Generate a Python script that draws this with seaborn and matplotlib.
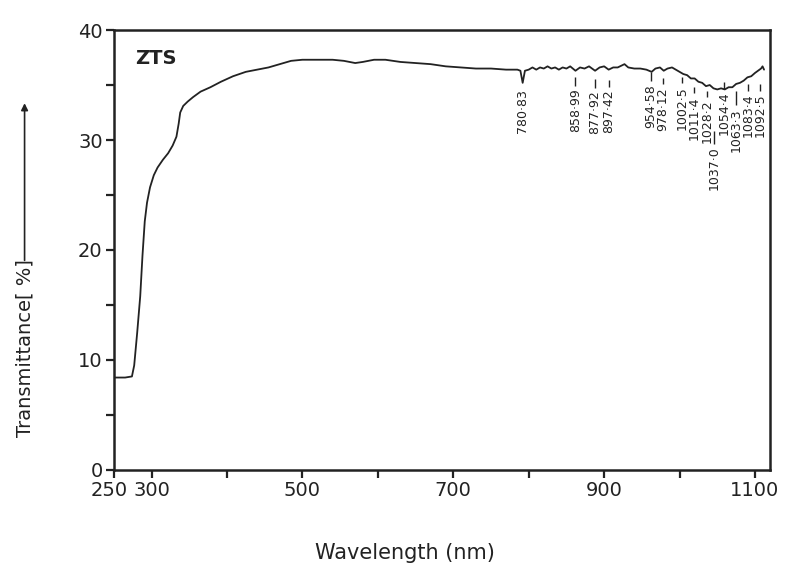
import numpy as np
import pandas as pd
import seaborn as sns
import matplotlib.pyplot as plt
import matplotlib.transforms as mtransforms
from matplotlib.ticker import FixedLocator

# transmittance spectrum
wavelength = [250, 265, 274, 277, 281, 285, 288, 291, 294, 298, 303, 308, 315, 322, 328,
              333, 336, 338, 342, 348, 355, 365, 378, 392, 408, 425, 440, 455, 470, 485,
              500, 520, 540, 555, 570, 580, 595, 610, 630, 650, 670, 690, 710, 730, 750,
              770, 785, 789, 792, 795, 800, 805, 810, 815, 820, 825, 830, 835, 840, 845,
              850, 855, 862, 868, 874, 880, 888, 894, 900, 906, 912, 918, 924, 927, 932,
              940, 948, 956, 963, 968, 974, 979, 984, 990, 995, 1000, 1005, 1010, 1015, 1020,
              1025, 1030, 1035, 1040, 1045, 1050, 1055, 1060, 1065, 1070, 1075, 1080, 1085, 1090, 1095,
              1100, 1104, 1108, 1110, 1112]
transmittance = [8.4, 8.4, 8.5, 9.5, 12.5, 15.8, 19.5, 22.6, 24.3, 25.7, 26.8, 27.5, 28.2, 28.8, 29.5,
                 30.3, 31.5, 32.5, 33.1, 33.5, 33.9, 34.4, 34.8, 35.3, 35.8, 36.2, 36.4, 36.6, 36.9, 37.2,
                 37.3, 37.3, 37.3, 37.2, 37.0, 37.1, 37.3, 37.3, 37.1, 37.0, 36.9, 36.7, 36.6, 36.5, 36.5,
                 36.4, 36.4, 36.3, 35.2, 36.3, 36.4, 36.6, 36.4, 36.6, 36.5, 36.7, 36.5, 36.6, 36.4, 36.6,
                 36.5, 36.7, 36.3, 36.6, 36.5, 36.7, 36.3, 36.6, 36.7, 36.4, 36.6, 36.6, 36.8, 36.9, 36.6,
                 36.5, 36.5, 36.4, 36.2, 36.5, 36.6, 36.3, 36.5, 36.6, 36.4, 36.2, 36.0, 35.9, 35.6, 35.6,
                 35.3, 35.2, 34.9, 35.0, 34.7, 34.6, 34.7, 34.6, 34.8, 34.8, 35.1, 35.2, 35.4, 35.7, 35.8,
                 36.1, 36.3, 36.5, 36.7, 36.4]

# peak labels (text), where they sit, and where the text starts (top end)
peak_text = ["780·83", "858·99", "877·92", "897·42", "954·58", "978·12", "1002·5",
             "1011·4", "1028·2", "1037·0", "1054·4", "1063·3", "1083·4", "1092·5"]
peak_x = [792, 862, 888, 906, 962, 978, 1003, 1019, 1036, 1046, 1059, 1075, 1091, 1107]
peak_top = [34.6, 34.7, 34.5, 34.6, 35.1, 34.8, 34.9, 34.0, 33.7, 29.4, 34.4, 32.9, 34.2, 34.2]
peak_dash = [0, 0.8, 0.8, 0.6, 0.8, 0.6, 0.6, 0.6, 0.5, 1.2, 0.6, 1.3, 0.6, 0.6]

x_major = [250, 300, 500, 700, 900, 1100]
x_minor = [400, 600, 800, 1000]
y_major = [0, 10, 20, 30, 40]
y_minor = [5, 15, 25, 35]

sns.set_theme(style="ticks")
plt.rcParams["font.family"] = ["DejaVu Sans"]

df = pd.DataFrame({"wl": wavelength, "T": transmittance})

fig = plt.figure(figsize=(7.85, 5.78), dpi=100)
ax = fig.add_axes([0.145, 0.187, 0.836, 0.761])

sns.lineplot(data=df, x="wl", y="T", color="#222222", linewidth=1.3, ax=ax)

ax.set_xlim(250, 1120)
ax.set_ylim(0, 40)
ax.xaxis.set_major_locator(FixedLocator(x_major))
ax.xaxis.set_minor_locator(FixedLocator(x_minor))
ax.yaxis.set_major_locator(FixedLocator(y_major))
ax.yaxis.set_minor_locator(FixedLocator(y_minor))
ax.tick_params(which="both", direction="out", length=6, width=1.6, color="#222222",
               labelsize=14, labelcolor="#222222", pad=2)
for s in ax.spines.values():
    s.set_linewidth(1.8)
    s.set_color("#222222")

# push "250" a little left so it does not run into "300"
fig.canvas.draw()
lbl250 = ax.get_xticklabels()[0]
lbl250.set_transform(lbl250.get_transform() + mtransforms.ScaledTranslation(-5 / 100, 0, fig.dpi_scale_trans))

ax.set_xlabel("")
ax.set_ylabel("")
ax.text(0.444, -0.19, "Wavelength (nm)", transform=ax.transAxes, ha="center", va="center",
        fontsize=15, color="#222222")
ax.text(-0.136, 0.277, "Transmittance[ %]", transform=ax.transAxes, rotation=90,
        ha="center", va="center", fontsize=14, color="#222222")
ax.annotate("", xy=(-0.136, 0.84), xytext=(-0.136, 0.47), xycoords="axes fraction",
            textcoords="axes fraction", annotation_clip=False,
            arrowprops=dict(arrowstyle="-|>", color="#222222", lw=1.2, mutation_scale=10))

ax.text(0.032, 0.935, "ZTS", transform=ax.transAxes, fontsize=14, fontweight="bold",
        color="#222222", ha="left", va="center")

for txt, x, top, d in zip(peak_text, peak_x, peak_top, peak_dash):
    ax.text(x, top, txt, rotation=90, ha="center", va="top", fontsize=9, color="#222222")
    if d > 0:
        ax.vlines(x, top + 0.25, top + 0.25 + d, color="#222222", linewidth=1)

fig.savefig("out.png", dpi=100)
